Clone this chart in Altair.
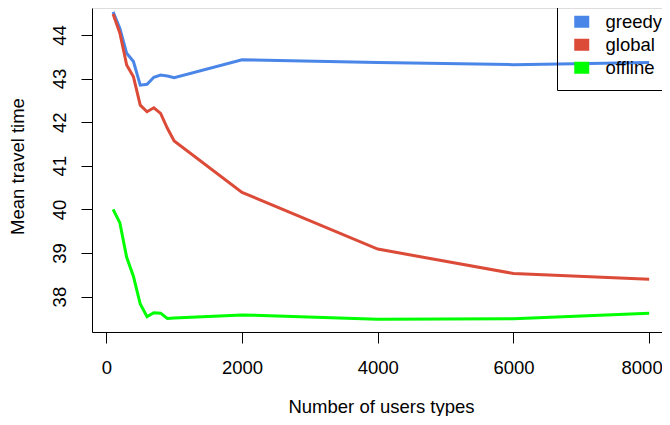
import altair as alt
import pandas as pd

# ---- data ----
users = [100, 200, 300, 400, 500, 600, 700, 800, 900, 1000, 2000, 4000, 6000, 8000]
greedy = [44.53, 44.15, 43.58, 43.39, 42.85, 42.87, 43.03, 43.08, 43.06, 43.02, 43.43, 43.37, 43.32, 43.37]
global_ = [44.48, 44.04, 43.31, 43.04, 42.39, 42.24, 42.33, 42.20, 41.86, 41.57, 40.39, 39.09, 38.53, 38.40]
offline = [40.00, 39.69, 38.90, 38.46, 37.83, 37.54, 37.63, 37.62, 37.50, 37.51, 37.58, 37.48, 37.49, 37.62]

series_names = ["greedy", "global", "offline"]
series_colors = ["#4a86e8", "#dc4a38", "#00ff00"]
x_ticks = [0, 2000, 4000, 6000, 8000]
y_ticks = [38, 39, 40, 41, 42, 43, 44]

rows = []
for name, vals in zip(series_names, [greedy, global_, offline]):
    for u, v in zip(users, vals):
        rows.append({"users": u, "time": v, "series": name})
df = pd.DataFrame(rows)

FONT = "Liberation Sans"
FS = 18.5
# filled rectangle drawn as stacked horizontal strokes (legend symbols of a line mark are stroked)
legend_path = "M-0.467,-0.6H1.533M-0.467,-0.2H1.533M-0.467,0.2H1.533M-0.467,0.6H1.533"

chart = alt.Chart(df).mark_line(strokeWidth=3, clip=True).encode(
    x=alt.X(
        "users:Q",
        scale=alt.Scale(domain=[-211, 8189], nice=False, zero=False),
        axis=alt.Axis(
            values=x_ticks, format="d", title="Number of users types",
            grid=False, tickSize=11, tickColor="black", domainColor="black",
            labelFont=FONT, labelFontSize=FS, labelColor="black", labelPadding=15,
            labelFlush=13.5, labelFlushOffset=13, labelOverlap=False,
            titleFont=FONT, titleFontSize=FS, titleFontWeight="normal", titleColor="black",
            titleBaseline="top", titleAlign="center", titleY=65.5, titleX=289,
        ),
    ),
    y=alt.Y(
        "time:Q",
        scale=alt.Scale(domain=[37.188, 44.619], nice=False, zero=False),
        axis=alt.Axis(
            values=y_ticks, format="d", title="Mean travel time",
            grid=False, tickSize=11, tickColor="black", domainColor="black",
            labelFont=FONT, labelFontSize=FS, labelColor="black", labelPadding=16,
            labelAngle=270, labelAlign="center", labelBaseline="alphabetic",
            labelFlush=False, labelOverlap=False,
            titleFont=FONT, titleFontSize=FS, titleFontWeight="normal", titleColor="black",
            titleAngle=270, titleAlign="center", titleBaseline="alphabetic",
            titleX=-69, titleY=158,
        ),
    ),
    color=alt.Color(
        "series:N",
        scale=alt.Scale(domain=series_names, range=series_colors),
        legend=alt.Legend(
            title=None, orient="none", legendX=465, legendY=-7, direction="vertical",
            strokeColor="black", padding=11.5,
            symbolType=legend_path, symbolSize=225, symbolStrokeWidth=3,
            labelFont=FONT, labelFontSize=FS, labelColor="black",
            labelOffset=18.5, rowPadding=1,
        ),
    ),
).properties(
    width=570, height=324,
    padding={"left": 84, "top": 0, "right": 0, "bottom": 84},
    autosize=alt.AutoSizeParams(type="none"),
).configure_view(stroke=None).configure(background="white")

chart.save("out.html", embed_options={"renderer": "svg", "actions": False})
